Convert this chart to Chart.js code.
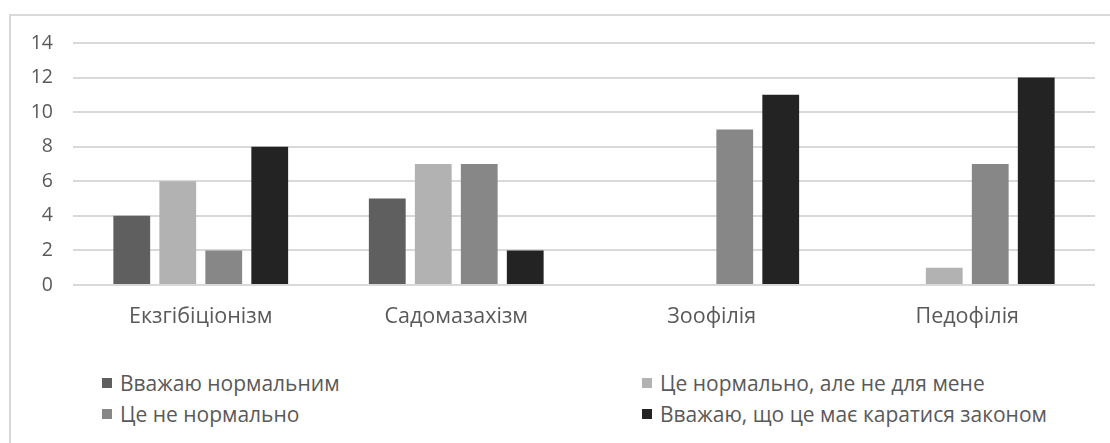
<!DOCTYPE html>
<html lang="uk">
<head>
  <meta charset="UTF-8" />
  <title>Ставлення до парафілій</title>
  <script src="https://cdn.jsdelivr.net/npm/chart.js@4.4.1/dist/chart.umd.min.js"></script>
  <style>
    body { margin: 0; background: #fff; font-family: "Open Sans", sans-serif; }
    .frame { position: absolute; left: 9px; top: 14px; width: 1120px; height: 460px; border: 2px solid #d9d9d9; box-sizing: border-box; }
    .chart-box { position: absolute; left: 0; top: 0; width: 1110px; height: 340px; }
    #legend { position: absolute; left: 102px; top: 370px; display: grid; grid-template-columns: 540px 460px; row-gap: 5px; }
    .item { display: flex; align-items: center; font-size: 21px; color: #595959; height: 26px; }
    .swatch { width: 10px; height: 10px; margin-right: 8px; }
  </style>
</head>
<body>
  <div class="frame"></div>
  <div class="chart-box"><canvas id="barChart"></canvas></div>
  <div id="legend"></div>

  <script>
    const categories = ['Екзгібіціонізм', 'Садомазахізм', 'Зоофілія', 'Педофілія'];
    const seriesNames = [
      'Вважаю нормальним',
      'Це нормально, але не для мене',
      'Це не нормально',
      'Вважаю, що це має каратися законом'
    ];
    const normal = [4, 5, 0, 0];
    const normalNotForMe = [6, 7, 0, 1];
    const notNormal = [2, 7, 9, 7];
    const punishable = [8, 2, 11, 12];
    const seriesColors = ['#5f5f5f', '#b2b2b2', '#878787', '#232323'];

    const seriesValues = [normal, normalNotForMe, notNormal, punishable];
    const textColor = '#595959';
    const fontFamily = '"Open Sans", sans-serif';

    const chart = new Chart(document.getElementById('barChart'), {
      type: 'bar',
      data: {
        labels: categories,
        datasets: seriesNames.map((name, i) => ({
          label: name,
          data: seriesValues[i],
          backgroundColor: seriesColors[i],
          borderWidth: 0,
          categoryPercentage: 0.72,
          barPercentage: 0.8
        }))
      },
      options: {
        responsive: true,
        maintainAspectRatio: false,
        animation: false,
        layout: { padding: { left: 20, top: 43, right: 15, bottom: 0 } },
        plugins: { legend: { display: false }, tooltip: { enabled: false } },
        scales: {
          x: {
            grid: { display: false, drawTicks: false },
            border: { display: false },
            ticks: { color: textColor, font: { family: fontFamily, size: 21.5 }, padding: 19 },
            afterFit: scale => { scale.height = 55; }
          },
          y: {
            min: 0,
            max: 14,
            ticks: { stepSize: 2, color: textColor, font: { family: fontFamily, size: 19.5 }, padding: 20 },
            grid: { color: '#d9d9d9', lineWidth: 2, drawTicks: false },
            border: { display: false },
            afterFit: scale => { scale.width = 53; }
          }
        }
      }
    });

    // legend in two columns, built from the chart's datasets
    const legend = document.getElementById('legend');
    chart.data.datasets.forEach(ds => {
      const item = document.createElement('div');
      item.className = 'item';
      const sw = document.createElement('span');
      sw.className = 'swatch';
      sw.style.background = ds.backgroundColor;
      item.appendChild(sw);
      item.appendChild(document.createTextNode(ds.label));
      legend.appendChild(item);
    });
  </script>
</body>
</html>
